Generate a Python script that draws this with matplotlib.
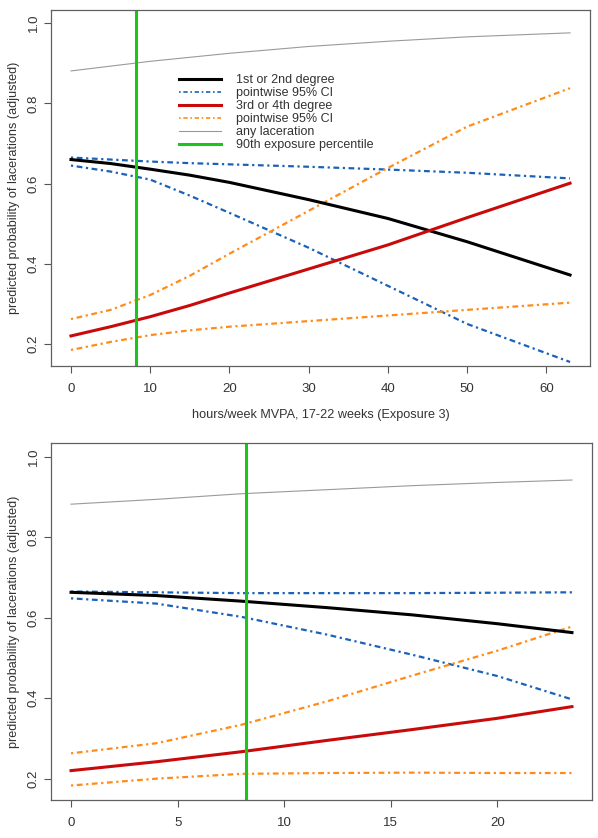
import matplotlib
matplotlib.use("Agg")
import matplotlib.pyplot as plt

plt.rcParams["font.family"] = ["Liberation Sans", "DejaVu Sans"]

# panel 1: hours/week MVPA, 17-22 weeks
x_top = [0, 5, 10, 15, 20, 30, 40, 50, 63]
deg12_top = [0.660, 0.650, 0.636, 0.621, 0.603, 0.560, 0.513, 0.455, 0.372]
deg12_hi_top = [0.665, 0.660, 0.655, 0.651, 0.648, 0.642, 0.635, 0.627, 0.613]
deg12_lo_top = [0.645, 0.630, 0.610, 0.570, 0.527, 0.440, 0.345, 0.250, 0.155]
deg34_top = [0.220, 0.243, 0.268, 0.296, 0.327, 0.387, 0.447, 0.515, 0.601]
deg34_hi_top = [0.262, 0.285, 0.322, 0.370, 0.425, 0.532, 0.639, 0.742, 0.838]
deg34_lo_top = [0.185, 0.205, 0.222, 0.234, 0.243, 0.257, 0.271, 0.285, 0.303]
any_top = [0.881, 0.893, 0.905, 0.915, 0.925, 0.942, 0.955, 0.966, 0.976]
p90_top = 8.2

# panel 2
x_bot = [0, 4, 8, 12, 16, 20, 23.5]
deg12_bot = [0.663, 0.655, 0.641, 0.625, 0.607, 0.585, 0.563]
deg12_hi_bot = [0.665, 0.663, 0.661, 0.661, 0.661, 0.662, 0.663]
deg12_lo_bot = [0.648, 0.635, 0.602, 0.558, 0.508, 0.455, 0.397]
deg34_bot = [0.220, 0.242, 0.267, 0.295, 0.322, 0.350, 0.379]
deg34_hi_bot = [0.263, 0.288, 0.334, 0.392, 0.456, 0.518, 0.578]
deg34_lo_bot = [0.183, 0.200, 0.212, 0.214, 0.215, 0.214, 0.214]
any_bot = [0.882, 0.894, 0.908, 0.918, 0.928, 0.936, 0.942]
p90_bot = 8.2

legend_labels = ["1st or 2nd degree", "pointwise 95% CI", "3rd or 4th degree",
                 "pointwise 95% CI", "any laceration", "90th exposure percentile"]

BLUE = "#1a62b8"
ORANGE = "#ff8c1a"
RED = "#c80a0a"
GREEN = "#1cc41c"
GREY = "#9a9a9a"
TEXT = "#333333"
DOTDASH = (0, (1, 1.6, 2.6, 1.6))

W, H = 598, 838


def draw_panel(ax, x, d12, d12hi, d12lo, d34, d34hi, d34lo, anyl, p90):
    ax.plot(x, anyl, color=GREY, lw=0.8)
    ax.plot(x, d12hi, color=BLUE, lw=1.6, ls=DOTDASH)
    ax.plot(x, d12lo, color=BLUE, lw=1.6, ls=DOTDASH)
    ax.plot(x, d34hi, color=ORANGE, lw=1.6, ls=DOTDASH)
    ax.plot(x, d34lo, color=ORANGE, lw=1.6, ls=DOTDASH)
    ax.plot(x, d12, color="black", lw=2.2)
    ax.plot(x, d34, color=RED, lw=2.2)
    ax.axvline(p90, color=GREEN, lw=2.2)

    ax.set_yticks([0.2, 0.4, 0.6, 0.8, 1.0])
    ax.set_yticklabels(["0.2", "0.4", "0.6", "0.8", "1.0"], rotation=90, va="center")
    ax.tick_params(direction="out", length=5, width=0.8, colors="#555555",
                   labelcolor=TEXT, labelsize=9.5)
    ax.tick_params(axis="x", pad=7)
    ax.tick_params(axis="y", pad=3)
    for s in ax.spines.values():
        s.set_color("#606060")
        s.set_linewidth(0.9)
    ax.set_ylabel("predicted probability of lacerations (adjusted)", color=TEXT,
                  fontsize=9.1, labelpad=6)


fig = plt.figure(figsize=(W / 100, H / 100), dpi=100)

ax1 = fig.add_axes([51 / W, (H - 366) / H, 539 / W, 356 / H])
draw_panel(ax1, x_top, deg12_top, deg12_hi_top, deg12_lo_top, deg34_top,
           deg34_hi_top, deg34_lo_top, any_top, p90_top)
ax1.set_xlim(-2.52, 65.52)
ax1.set_ylim(0.145, 1.033)
ax1.set_xticks(range(0, 61, 10))
ax1.set_xlabel("hours/week MVPA, 17-22 weeks (Exposure 3)", color=TEXT,
               fontsize=9.1, labelpad=10)

handles = [
    plt.Line2D([], [], color="black", lw=2.2),
    plt.Line2D([], [], color=BLUE, lw=1.2, ls=DOTDASH),
    plt.Line2D([], [], color=RED, lw=2.2),
    plt.Line2D([], [], color=ORANGE, lw=1.2, ls=DOTDASH),
    plt.Line2D([], [], color=GREY, lw=0.8),
    plt.Line2D([], [], color=GREEN, lw=2.2),
]
leg = ax1.legend(handles, legend_labels, loc="upper left",
                 bbox_to_anchor=(0.238, 0.819), frameon=False, fontsize=9,
                 handlelength=3.3, handletextpad=1.2, labelspacing=0.08,
                 borderpad=0, borderaxespad=0)
for t in leg.get_texts():
    t.set_color(TEXT)

ax2 = fig.add_axes([51 / W, (H - 800) / H, 541 / W, 357 / H])
draw_panel(ax2, x_bot, deg12_bot, deg12_hi_bot, deg12_lo_bot, deg34_bot,
           deg34_hi_bot, deg34_lo_bot, any_bot, p90_bot)
ax2.set_xlim(-0.94, 24.44)
ax2.set_ylim(0.147, 1.034)
ax2.set_xticks([0, 5, 10, 15, 20])

fig.savefig("out.png", dpi=100)
